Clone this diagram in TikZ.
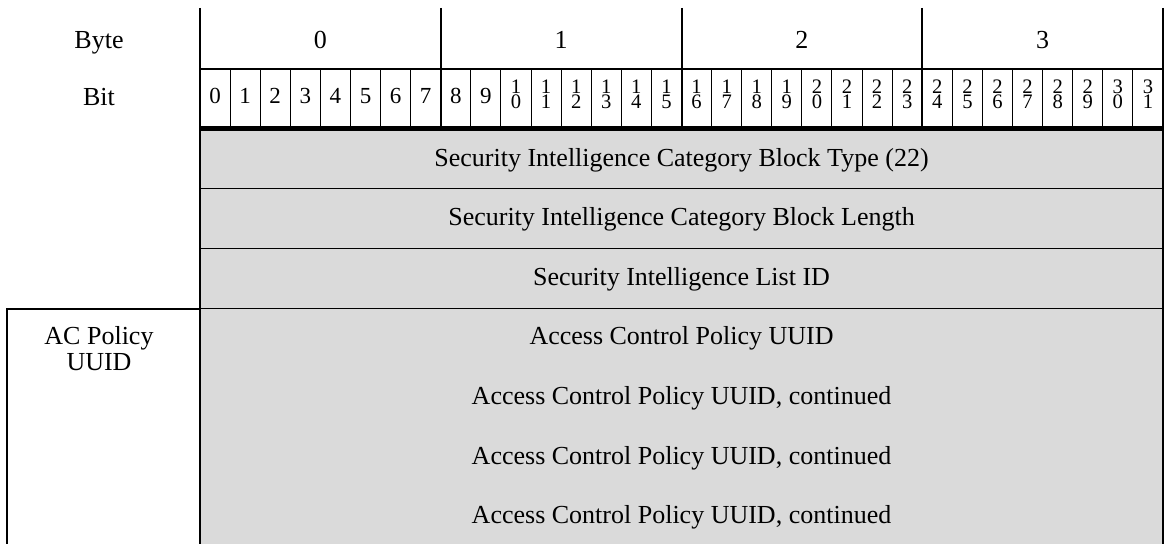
\documentclass[tikz,border=0pt]{standalone}
\usepackage{fontspec}
\setmainfont{Liberation Serif}
\definecolor{cellgray}{HTML}{DADADA}
\begin{document}
\begin{tikzpicture}[x=0.5pt,y=-0.5pt,
  lbl/.style={anchor=base,inner sep=0pt,font=\fontsize{13}{15}\selectfont},
  bitone/.style={anchor=base,inner sep=0pt,font=\fontsize{11.5}{13}\selectfont},
  bittwo/.style={anchor=base,inner sep=0pt,font=\fontsize{10.3}{10}\selectfont},
  thick2/.style={line width=1pt},
  thin1/.style={line width=0.5pt},
  rowline/.style={line width=0.65pt},
  heavy/.style={line width=2.5pt}]
\useasboundingbox (0,0) rectangle (1165,544);
% gray field area
\fill[cellgray] (200,131) rectangle (1163,544);
% header labels
\node[lbl] (byte) at (99,49) {Byte};
\node[lbl] (bit) at (99,106) {Bit};
% byte numbers
\foreach \k in {0,1,2,3}{
  \node[lbl] (B\k) at ({200+(8*\k+4)*30.09375},49) {\k};
}
% bit numbers
\foreach \i in {0,...,9}{
  \node[bitone] (b\i) at ({200+(\i+0.5)*30.09375},104) {\i};
}
\foreach \i/\a/\b in {10/1/0,11/1/1,12/1/2,13/1/3,14/1/4,15/1/5,16/1/6,17/1/7,18/1/8,19/1/9,20/2/0,21/2/1,22/2/2,23/2/3,24/2/4,25/2/5,26/2/6,27/2/7,28/2/8,29/2/9,30/3/0,31/3/1}{
  \node[bittwo] (bt\i) at ({200+(\i+0.5)*30.09375},93.3) {\a};
  \node[bittwo] (bb\i) at ({200+(\i+0.5)*30.09375},108.3) {\b};
}
% bit dividers
\foreach \i in {1,...,31}{
  \draw[thin1] ({200+\i*30.09375},69) -- ({200+\i*30.09375},126);
}
% byte dividers
\foreach \k in {1,2,3}{
  \draw[thick2] ({200+8*\k*30.09375},8) -- ({200+8*\k*30.09375},126);
}
% header horizontal line
\draw[thick2] (200,69) -- (1163,69);
% heavy line under bits
\draw[heavy] (200,128.5) -- (1163,128.5);
% row separators
\draw[rowline] (200,188.3) -- (1163,188.3);
\draw[rowline] (200,248.7) -- (1163,248.7);
\draw[rowline] (200,308.7) -- (1163,308.7);
% outer borders
\draw[thick2] (200,8) -- (200,544);
\draw[thick2] (1163,8) -- (1163,544);
% AC policy side box
\draw[thick2] (7,544) -- (7,308.7) -- (200,308.7);
\node[lbl] (ac1) at (99,345) {AC Policy};
\node[lbl] (ac2) at (99,371) {UUID};
% field texts
\node[lbl] (f1) at (681.5,167) {Security Intelligence Category Block Type (22)};
\node[lbl] (f2) at (681.5,226) {Security Intelligence Category Block Length};
\node[lbl] (f3) at (681.5,286) {Security Intelligence List ID};
\node[lbl] (f4) at (681.5,345) {Access Control Policy UUID};
\node[lbl] (f5) at (681.5,404.5) {Access Control Policy UUID, continued};
\node[lbl] (f6) at (681.5,464) {Access Control Policy UUID, continued};
\node[lbl] (f7) at (681.5,523.5) {Access Control Policy UUID, continued};
\end{tikzpicture}
\end{document}
